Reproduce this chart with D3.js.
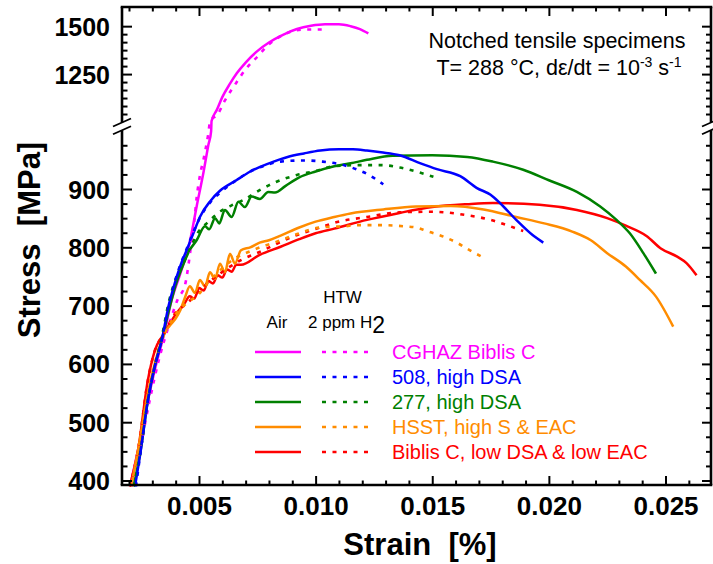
<!DOCTYPE html>
<html><head><meta charset="utf-8">
<script src="https://cdn.jsdelivr.net/npm/d3@7"></script>
<style>body{margin:0;background:#fff}svg{display:block}</style>
</head><body>
<script>
// ---------- data (strain, stress MPa) ----------
const xMajorTicks = [0.005, 0.010, 0.015, 0.020, 0.025];
const yLowMajorTicks = [400, 500, 600, 700, 800, 900];
const yUpMajorTicks = [1250, 1500];

const cghazAir = [[0.00205,390],[0.0024,455],[0.0028,535],[0.0032,605],[0.0035,650],[0.0038,705],[0.0042,755],[0.0046,808],[0.0049,870],[0.0052,930],[0.0054,975],[0.00552,999],[0.00554,1005],[0.00576,1062],[0.0060,1130],[0.00633,1200],[0.00662,1254],[0.0070,1310],[0.0075,1370],[0.0080,1415],[0.0086,1455],[0.0092,1485],[0.0098,1502],[0.0104,1510],[0.0110,1510],[0.0115,1500],[0.0119,1485],[0.01226,1462]];
const cghazHTW = [[0.0021,390],[0.0025,460],[0.0029,540],[0.0033,610],[0.0037,665],[0.0041,712],[0.0044,735],[0.00455,770],[0.00465,800],[0.0048,845],[0.0049,885],[0.00505,925],[0.0052,952],[0.0054,995],[0.00548,1005],[0.0058,1040],[0.0061,1110],[0.0066,1205],[0.0070,1275],[0.0075,1340],[0.0080,1405],[0.0087,1460],[0.0095,1482],[0.0103,1483]];
const s508Air = [[0.00226,390],[0.0025,450],[0.0028,535],[0.0031,595],[0.0034,640],[0.0037,700],[0.0039,730],[0.0042,768],[0.00447,795],[0.0048,828],[0.00504,852],[0.0055,880],[0.0059,897],[0.0066,915],[0.0072,930],[0.0080,944],[0.0088,955],[0.0095,961],[0.0102,966],[0.0110,968],[0.0116,968],[0.0122,966],[0.0128,963],[0.0136,958],[0.0145,944],[0.0152,934],[0.0162,922],[0.0169,902],[0.0175,890],[0.0179,876],[0.0186,847],[0.0193,821],[0.01976,808]];
const s508HTW = [[0.0023,390],[0.0025,450],[0.0028,535],[0.0031,595],[0.0034,640],[0.0037,700],[0.0039,732],[0.0042,770],[0.0045,800],[0.0048,830],[0.0051,855],[0.0055,878],[0.0060,897],[0.0066,915],[0.0072,930],[0.0078,940],[0.0085,947],[0.0095,949],[0.0103,947],[0.0112,941],[0.0118,933],[0.0122,926],[0.0129,908]];
const s277Air = [[0.0022,390],[0.0025,452],[0.0028,535],[0.0031,595],[0.0034,640],[0.0037,690],[0.0040,735],[0.0043,768],[0.0046,795],[0.0049,812],[0.00526,836],[0.00544,831],[0.00569,850],[0.00587,841],[0.00611,864],[0.0064,852],[0.00669,878],[0.00697,869],[0.00726,887],[0.00761,883],[0.00797,895],[0.00826,894],[0.0087,905],[0.0093,920],[0.0100,930],[0.0108,939],[0.0115,944],[0.0122,950],[0.0133,957],[0.0150,958],[0.0165,955],[0.0176,947],[0.0189,933],[0.0200,915],[0.0212,895],[0.0222,870],[0.0229,847],[0.02347,824],[0.02405,790],[0.02459,755]];
const s277HTW = [[0.0022,390],[0.0025,452],[0.0028,535],[0.0031,595],[0.0034,645],[0.0037,705],[0.0040,745],[0.0043,770],[0.0047,805],[0.0050,828],[0.00533,841],[0.0059,861],[0.0064,872],[0.0069,881],[0.0076,898],[0.0083,912],[0.0092,924],[0.0099,930],[0.0108,939],[0.0119,941],[0.0128,941],[0.0136,937],[0.0143,930],[0.01505,921]];
const hsstAir = [[0.0021,390],[0.0024,455],[0.0028,548],[0.0031,600],[0.0034,640],[0.0036,658],[0.0038,668],[0.0040,678],[0.0042,692],[0.0044,714],[0.00461,733],[0.00483,722],[0.00504,744],[0.00526,733],[0.00547,757],[0.00569,746],[0.0059,772],[0.00611,757],[0.00633,789],[0.00654,772],[0.0068,795],[0.0072,800],[0.0076,808],[0.0080,812],[0.0085,820],[0.0093,834],[0.0100,844],[0.0108,852],[0.0115,858],[0.0129,865],[0.0143,870],[0.0158,871],[0.0172,865],[0.0186,852],[0.0198,841],[0.0210,827],[0.0218,812],[0.0225,790],[0.0233,767],[0.0239,744],[0.0246,715],[0.02533,664]];
const hsstHTW = [[0.0021,390],[0.0024,455],[0.0028,548],[0.0031,600],[0.0034,640],[0.0037,665],[0.0040,685],[0.00447,704],[0.0050,720],[0.0054,740],[0.00576,755],[0.0065,780],[0.0073,795],[0.0085,812],[0.0093,824],[0.0102,834],[0.0112,836],[0.0119,838],[0.0128,838],[0.0138,836],[0.0143,834],[0.01476,828],[0.0155,818],[0.0161,807],[0.0166,795],[0.01712,784]];
const biblisAir = [[0.00203,390],[0.0024,455],[0.0028,570],[0.0031,622],[0.0035,652],[0.0040,685],[0.0044,705],[0.0046,716],[0.0048,712],[0.0050,730],[0.0052,726],[0.0054,742],[0.0056,738],[0.0058,752],[0.0060,748],[0.0062,762],[0.0064,758],[0.0066,770],[0.0068,770],[0.0076,787],[0.0085,801],[0.0093,814],[0.0100,824],[0.0108,832],[0.0122,847],[0.0136,859],[0.0150,869],[0.0165,874],[0.0176,876],[0.0196,873],[0.0212,864],[0.0225,850],[0.0233,837],[0.0242,819],[0.0248,798],[0.0255,784],[0.0259,773],[0.02633,752]];
const biblisHTW = [[0.00203,390],[0.0024,455],[0.0028,570],[0.0031,622],[0.0035,652],[0.0040,688],[0.00447,703],[0.0050,725],[0.0059,755],[0.0068,778],[0.0076,792],[0.0090,818],[0.0102,834],[0.0108,842],[0.0122,852],[0.0136,860],[0.0150,861],[0.0165,855],[0.0176,846],[0.0182,838],[0.0189,828]];

const seriesNames = ["CGHAZ Biblis C","508, high DSA","277, high DSA","HSST, high S & EAC","Biblis C, low DSA & low EAC"];
const seriesColors = ["#ff00ff","#0000ff","#008000","#ff8c00","#ff0000"];
const airData = [cghazAir, s508Air, s277Air, hsstAir, biblisAir];
const htwData = [cghazHTW, s508HTW, s277HTW, hsstHTW, biblisHTW];

// ---------- layout ----------
const W = 713, H = 564;
const L = 122, R = 711, T = 7, B = 485, BRK_LO = 130.7, BRK_HI = 122;
const FONT = "'Liberation Sans', Arial, Helvetica, sans-serif";

const svg = d3.select("body").append("svg").attr("width", W).attr("height", H)
  .style("font-family", FONT);

const x = d3.scaleLinear().domain([0.0017, 0.02695]).range([L, R]);
const yLow = d3.scaleLinear().domain([392.3, 1000]).range([B, BRK_LO]);
const yUp = d3.scaleLinear().domain([1000, 1600]).range([BRK_HI, T]);
const y = d3.scaleLinear().domain([392.3, 1000, 1000.01, 1600]).range([B, BRK_LO, BRK_HI, T]);

// ---------- curves ----------
const line = d3.line().x(d => x(d[0])).y(d => y(d[1])).curve(d3.curveMonotoneX);
const order = [0, 4, 3, 2, 1];
const gC = svg.append("g");
order.forEach(i => {
  gC.append("path").attr("d", line(airData[i])).attr("fill", "none")
    .attr("stroke", seriesColors[i]).attr("stroke-width", 2.5).attr("stroke-linejoin", "round");
});
order.forEach(i => {
  gC.append("path").attr("d", line(htwData[i])).attr("fill", "none")
    .attr("stroke", seriesColors[i]).attr("stroke-width", 2.6).attr("stroke-dasharray", "4,6.5");
});

// ---------- axes ----------
const minorX = d3.range(2, 27).map(v => v / 1000).filter(v => !xMajorTicks.some(m => Math.abs(m - v) < 1e-9));
const lowMinor = d3.range(425, 1000, 25).filter(v => v % 100 !== 0);
const upMinor = d3.range(1, 13).map(k => 1000 + k * 250 / 6).filter(v => v > 1040 && v < 1600 && Math.abs(v - 1250) > 1 && Math.abs(v - 1500) > 1);

function styleAxis(g) {
  g.select(".domain").remove();
  g.selectAll(".tick line").attr("stroke", "#000").attr("stroke-width", 2);
  g.selectAll(".tick text").attr("fill", "#000");
}
// bottom
svg.append("g").attr("transform", `translate(0,${B})`)
  .call(d3.axisBottom(x).tickValues(xMajorTicks).tickSize(-9).tickPadding(12).tickFormat(d3.format(".3f")))
  .call(styleAxis)
  .call(g => g.selectAll(".tick text").attr("font-size", 26).attr("font-weight", "bold").attr("font-family", FONT));
svg.append("g").attr("transform", `translate(0,${B})`)
  .call(d3.axisBottom(x).tickValues(minorX).tickSize(-4.5).tickFormat(""))
  .call(styleAxis);
// top
svg.append("g").attr("transform", `translate(0,${T})`)
  .call(d3.axisTop(x).tickValues(xMajorTicks).tickSize(-9).tickFormat(""))
  .call(styleAxis);
svg.append("g").attr("transform", `translate(0,${T})`)
  .call(d3.axisTop(x).tickValues(minorX).tickSize(-4.5).tickFormat(""))
  .call(styleAxis);
// left lower/upper
function yLabels(g) {
  g.selectAll(".tick text").attr("font-size", 25).attr("font-weight", "bold").attr("font-family", FONT).attr("dy", "0.36em");
}
svg.append("g").attr("transform", `translate(${L},0)`)
  .call(d3.axisLeft(yLow).tickValues(yLowMajorTicks).tickSize(-10).tickPadding(12).tickFormat(d3.format("d")))
  .call(styleAxis).call(yLabels);
svg.append("g").attr("transform", `translate(${L},0)`)
  .call(d3.axisLeft(yLow).tickValues(lowMinor).tickSize(-5.5).tickFormat(""))
  .call(styleAxis);
svg.append("g").attr("transform", `translate(${L},0)`)
  .call(d3.axisLeft(yUp).tickValues(yUpMajorTicks).tickSize(-10).tickPadding(12).tickFormat(d3.format("d")))
  .call(styleAxis).call(yLabels);
svg.append("g").attr("transform", `translate(${L},0)`)
  .call(d3.axisLeft(yUp).tickValues(upMinor).tickSize(-5.5).tickFormat(""))
  .call(styleAxis);
// right
[[yLow, yLowMajorTicks, 9], [yLow, lowMinor, 5], [yUp, yUpMajorTicks, 9], [yUp, upMinor, 5]].forEach(([sc, tv, sz]) => {
  svg.append("g").attr("transform", `translate(${R},0)`)
    .call(d3.axisRight(sc).tickValues(tv).tickSize(-sz).tickFormat(""))
    .call(styleAxis);
});

// frame
const frame = svg.append("g").attr("stroke", "#000").attr("stroke-width", 2.6).attr("fill", "none");
frame.append("line").attr("x1", L - 1.3).attr("x2", R + 1.3).attr("y1", B).attr("y2", B);
frame.append("line").attr("x1", L - 1.3).attr("x2", R + 1.3).attr("y1", T).attr("y2", T);
[L, R].forEach(xx => {
  frame.append("line").attr("x1", xx).attr("x2", xx).attr("y1", T).attr("y2", BRK_HI + 0.5);
  frame.append("line").attr("x1", xx).attr("x2", xx).attr("y1", BRK_LO - 0.5).attr("y2", B);
  [BRK_HI + 0.5, BRK_LO - 0.5].forEach(yy => {
    frame.append("line").attr("x1", xx - 9).attr("y1", yy + 4).attr("x2", xx + 9).attr("y2", yy - 4)
      .attr("stroke-width", 1.8);
  });
});

// axis titles
svg.append("text").attr("transform", `translate(40,${(B + T) / 2 - 6}) rotate(-90)`)
  .attr("text-anchor", "middle").attr("font-size", 31).attr("font-weight", "bold")
  .attr("xml:space", "preserve").text("Stress  [MPa]");
svg.append("text").attr("x", 420).attr("y", 555).attr("text-anchor", "middle")
  .attr("font-size", 31).attr("font-weight", "bold").attr("xml:space", "preserve").text("Strain  [%]");

// annotation
svg.append("text").attr("x", 557).attr("y", 48).attr("text-anchor", "middle").attr("font-size", 21.5)
  .text("Notched tensile specimens");
const t2 = svg.append("text").attr("x", 559).attr("y", 75).attr("text-anchor", "middle").attr("font-size", 21.5);
t2.append("tspan").text("T= 288 °C, dε/dt = 10");
t2.append("tspan").attr("dy", -8).attr("font-size", 14).text("-3");
t2.append("tspan").attr("dy", 8).text(" s");
t2.append("tspan").attr("dy", -8).attr("font-size", 14).text("-1");

// legend
const lg = svg.append("g");
lg.append("text").attr("x", 342.5).attr("y", 303).attr("text-anchor", "middle").attr("font-size", 17).text("HTW");
lg.append("text").attr("x", 277).attr("y", 328).attr("text-anchor", "middle").attr("font-size", 17).text("Air");
const h2 = lg.append("text").attr("x", 308).attr("y", 328).attr("font-size", 17);
h2.append("tspan").text("2 ppm H");
h2.append("tspan").attr("dy", 5).attr("font-size", 23).text("2");
seriesNames.forEach((name, i) => {
  const yy = 352 + i * 25;
  lg.append("line").attr("x1", 255).attr("x2", 301).attr("y1", yy).attr("y2", yy)
    .attr("stroke", seriesColors[i]).attr("stroke-width", 2.5);
  lg.append("line").attr("x1", 322).attr("x2", 369).attr("y1", yy).attr("y2", yy)
    .attr("stroke", seriesColors[i]).attr("stroke-width", 2.6).attr("stroke-dasharray", "4,6.5");
  lg.append("text").attr("x", 392).attr("y", yy + 7).attr("font-size", 20).attr("fill", seriesColors[i]).text(name);
});
</script>
</body></html>
